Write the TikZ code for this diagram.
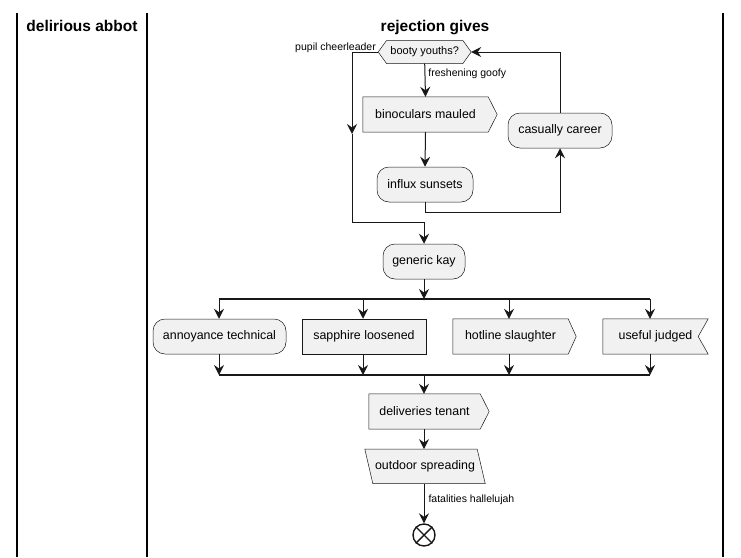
\documentclass[tikz,border=0pt]{standalone}
\usepackage{fontspec}
\setmainfont{Liberation Sans}
\usetikzlibrary{arrows.meta,backgrounds}
\definecolor{linec}{HTML}{181818}
\definecolor{boxfill}{HTML}{F1F1F1}
\begin{document}
\begin{tikzpicture}[x=1pt,y=-1pt,
  conn/.style={draw=linec, line width=1pt},
  arr/.style={conn, -{Stealth[length=10pt,width=10pt,inset=3.5pt]}},
  plainbox/.style={minimum height=35pt, inner sep=0pt, font=\fontsize{12.4}{14}\selectfont},
  box/.style={plainbox, draw=linec, fill=boxfill, line width=0.5pt},
  roundbox/.style={box, rounded corners=12pt},
  shp/.style={draw=linec, fill=boxfill, line width=0.5pt},
  bar/.style={draw=linec, line width=2.2pt},
  lane/.style={draw=black, line width=1.3pt},
  lbl/.style={inner sep=0pt, font=\fontsize{10.5}{12}\selectfont},
  lanetitle/.style={inner sep=0pt, font=\fontsize{15.5}{18}\selectfont\bfseries}]
\useasboundingbox (0,0) rectangle (741,557);
% swimlanes
\draw[lane] (17,13) -- (17,557);
\draw[lane] (147,13) -- (147,557);
\draw[lane] (723,13) -- (723,557);
\node[lanetitle, anchor=base] (t1) at (82,31) {delirious abbot};
\node[lanetitle, anchor=base] (t2) at (435,31) {rejection gives};

% nodes
\node[plainbox, minimum width=76pt, minimum height=22.6pt, font=\fontsize{11}{13}\selectfont] (booty) at (424.7,52) {booty youths?};
\node[plainbox, minimum width=125pt] (binoc) at (425.5,114.5) {binoculars mauled};
\node[roundbox, minimum width=96pt] (influx) at (425,184.5) {influx sunsets};
\node[roundbox, minimum width=104pt] (casual) at (560,130.5) {casually career};
\node[roundbox, minimum width=82pt] (generic) at (424,261.5) {generic kay};
\node[roundbox, minimum width=133pt] (annoy) at (219.5,336.5) {annoyance technical};
\node[box, minimum width=124pt] (sapph) at (364,336.5) {sapphire loosened};
\node[plainbox, minimum width=115pt] (hotline) at (510.5,336.5) {hotline slaughter};
\node[plainbox, minimum width=105pt] (useful) at (655.5,336.5) {useful judged};
\node[plainbox, minimum width=111pt] (deliv) at (424.5,411.5) {deliveries tenant};
\node[plainbox, minimum width=112pt, minimum height=34pt] (outdoor) at (425,466.3) {outdoor spreading};
\node[circle, draw=linec, fill=white, line width=1.4pt, minimum size=22pt, inner sep=0pt] (endn) at (424,535) {};
\draw[linec, line width=1.4pt] (endn.north west) -- (endn.south east) (endn.north east) -- (endn.south west);

% special shapes behind the texts
\begin{scope}[on background layer]
\path[shp] ([xshift=-8.3pt]booty.west) -- (booty.north west) -- (booty.north east) -- ([xshift=8.3pt]booty.east) -- (booty.south east) -- (booty.south west) -- cycle;
\path[shp] (binoc.north west) -- (binoc.north east) -- ([xshift=9pt]binoc.east) -- (binoc.south east) -- (binoc.south west) -- cycle;
\path[shp] (hotline.north west) -- (hotline.north east) -- ([xshift=8pt]hotline.east) -- (hotline.south east) -- (hotline.south west) -- cycle;
\path[shp] (useful.north west) -- (useful.north east) -- ([xshift=-10pt]useful.east) -- (useful.south east) -- (useful.south west) -- cycle;
\path[shp] (deliv.north west) -- (deliv.north east) -- ([xshift=9pt]deliv.east) -- (deliv.south east) -- (deliv.south west) -- cycle;
\path[shp] ([xshift=-4pt]outdoor.north west) -- ([xshift=-4pt]outdoor.north east) -- ([xshift=4pt]outdoor.south east) -- ([xshift=4pt]outdoor.south west) -- cycle;
\end{scope}

% coordinates
\coordinate (lc) at (352,134);
\coordinate (lb) at (352,222);
\coordinate (fork) at (424,299);
\coordinate (join) at (424,375);
\coordinate (fa) at (219,299);
\coordinate (fs) at (363,299);
\coordinate (fh) at (509,299);
\coordinate (fu) at (650,299);
\coordinate (ja) at (219,375);
\coordinate (js) at (363,375);
\coordinate (jh) at (509,375);
\coordinate (ju) at (650,375);

% connectors
\draw[arr] (booty.south) -- (binoc.north) node[lbl, pos=0.3, anchor=west, xshift=3pt] {freshening goofy};
\draw[arr] (binoc.south) -- (influx.north);
\draw[arr] (influx.south) -- ++(0,10) -| (casual.south);
\draw[arr] (casual.north) |- ([xshift=8.3pt]booty.east);
\draw[arr] ([xshift=-8.3pt]booty.west) -| (lc);
\node[lbl, anchor=base east] (pl) at (376,50) {pupil cheerleader};
\draw[arr] (lc) -- (lb) -| (generic.north);
\draw[arr] (generic.south) -- (fork);
\draw[bar] (fa) -- (fu);
\draw[arr] (fa) -- (fa |- annoy.north);
\draw[arr] (fs) -- (fs |- sapph.north);
\draw[arr] (fh) -- (fh |- hotline.north);
\draw[arr] (fu) -- (fu |- useful.north);
\draw[arr] (ja |- annoy.south) -- (ja);
\draw[arr] (js |- sapph.south) -- (js);
\draw[arr] (jh |- hotline.south) -- (jh);
\draw[arr] (ju |- useful.south) -- (ju);
\draw[bar] (ja) -- (ju);
\draw[arr] (join) -- (deliv.north -| join);
\draw[arr] (deliv.south -| join) -- (outdoor.north -| join);
\draw[arr] (outdoor.south -| endn) -- (endn.north) node[lbl, midway, anchor=west, xshift=4pt, yshift=4pt] {fatalities hallelujah};
\end{tikzpicture}
\end{document}
